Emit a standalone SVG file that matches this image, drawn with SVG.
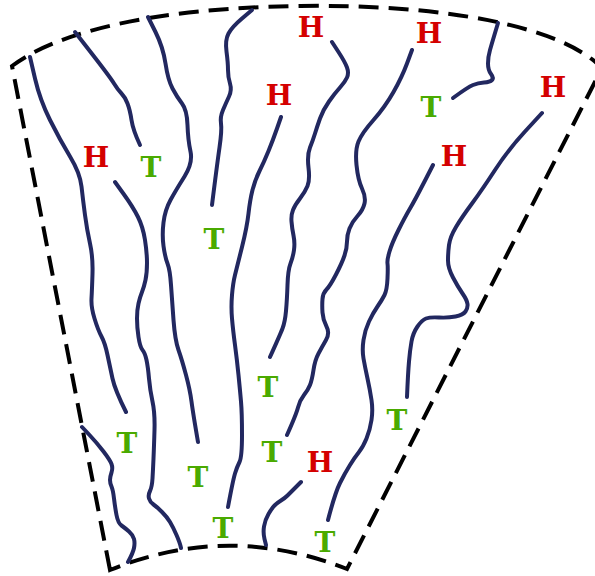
<svg xmlns="http://www.w3.org/2000/svg" width="595" height="576" viewBox="0 0 595 576">
<style>
.b{fill:none;stroke:#000;stroke-width:4;stroke-dasharray:20 10}
.l{fill:none;stroke:#222860;stroke-width:4;stroke-linecap:round;stroke-linejoin:round}
text{font-family:"DejaVu Serif","Liberation Serif",serif;font-weight:bold;font-size:28px;text-anchor:middle}
.h{fill:#d40000}
.t{fill:#4aaa00}
</style>
<rect width="595" height="576" fill="#fff"/>
<g id="border">
<path class="b" d="M110,570 L12,66 C60,30 160,8 300,6 C440,4 560,25 602,68 L347,569 Q228,522 110,570 Z"/>
</g>
<g id="connectors">
<path class="l" d="M30,57 L35,78.5 Q40,100 50,120 Q60,140 70,156.5 Q80,173 81.5,186.5 Q83,200 85,215 Q87,230 90,243.5 Q93,257 92.5,273.5 Q92,290 91.5,298.5 Q91,307 94.5,318.5 Q98,330 101.5,336.5 Q105,343 107.5,355 Q110,367 112.5,378.5 Q115,390 126,412"/>
<path class="l" d="M75,32 L92.5,54.5 Q110,77 114,83.5 Q118,90 121.5,93.5 Q125,97 127.5,103.5 Q130,110 131.5,120 Q133,130 140,145"/>
<path class="l" d="M148,17 L155.5,32 Q163,47 165.5,63.5 Q168,80 172.5,88.5 Q177,97 182,103.5 Q187,110 187.5,125 Q188,140 190.5,151.5 Q193,163 184.5,176.5 Q176,190 170.5,200 Q165,210 163.5,222.5 Q162,235 163.5,246 Q165,257 167.5,263.5 Q170,270 171,285 Q172,300 173.5,320 Q175,340 178.5,350 Q182,360 186,375 Q190,390 191.5,401.5 Q193,413 198,442"/>
<path class="l" d="M252,10 L242,18.5 Q232,27 228.5,33.5 Q225,40 226.5,51.5 Q228,63 228,70 Q228,77 230,83.5 Q232,90 229,96.5 Q226,103 223,110 Q220,117 221,123.5 Q222,130 219.5,147.5 Q217,165 212,205"/>
<path class="l" d="M281,117 L277,128.5 Q273,140 268.5,151 Q264,162 259.5,171 Q255,180 252.5,190 Q250,200 248.5,213.5 Q247,227 242,247 Q237,267 235,275 Q233,283 232,295 Q231,307 232,318.5 Q233,330 235,345 Q237,360 238.5,375 Q240,390 241,401.5 Q242,413 242,435 Q242,457 239.5,462 Q237,467 235,473.5 Q233,480 228,507"/>
<path class="l" d="M332,42 L338.5,52 Q345,62 347,67.5 Q349,73 347,77.5 Q345,82 340,87.5 Q335,93 329,101.5 Q323,110 320,118.5 Q317,127 315,133.5 Q313,140 310,147.5 Q307,155 308.5,167.5 Q310,180 307.5,186 Q305,192 300,198.5 Q295,205 293,210 Q291,215 291.5,221.5 Q292,228 293.5,235.5 Q295,243 294,250 Q293,257 290.5,263.5 Q288,270 287.5,285 Q287,300 286,311 Q285,322 282.5,328.5 Q280,335 270,357"/>
<path class="l" d="M412,50 L407,63.5 Q402,77 393.5,92 Q385,107 373.5,120 Q362,133 358.5,141.5 Q355,150 356.5,165 Q358,180 362,188.5 Q366,197 364.5,203.5 Q363,210 357.5,216 Q352,222 349.5,228.5 Q347,235 347,241.5 Q347,248 344.5,255.5 Q342,263 336,274.5 Q330,286 326.5,289.5 Q323,293 322.5,299 Q322,305 322.5,312.5 Q323,320 326.5,326.5 Q330,333 326,340 Q322,347 318.5,353.5 Q315,360 313.5,370 Q312,380 310,385 Q308,390 304,395 Q300,400 298,407.5 Q296,415 287,435"/>
<path class="l" d="M498,23 L495,33 Q492,43 490,50 Q488,57 488,63.5 Q488,70 491,74 Q494,78 492,80 Q490,82 484,82.5 Q478,83 473,85 Q468,87 453,98"/>
<path class="l" d="M433,165 L424,182.5 Q415,200 410,208.5 Q405,217 398.5,230 Q392,243 389.5,251.5 Q387,260 387.5,263.5 Q388,267 387.5,278.5 Q387,290 384.5,295 Q382,300 377.5,306.5 Q373,313 369,321.5 Q365,330 363.5,340 Q362,350 363.5,358.5 Q365,367 367.5,378.5 Q370,390 371.5,400 Q373,410 371.5,420 Q370,430 366.5,438.5 Q363,447 359,452 Q355,457 350,465 Q345,473 340,483 Q335,493 328,520"/>
<path class="l" d="M542,113 L525,131.5 Q508,150 495,170 Q482,190 472,203.5 Q462,217 456,227 Q450,237 449,245 Q448,253 448,260.5 Q448,268 453,277.5 Q458,287 462.5,293.5 Q467,300 467.5,304 Q468,308 465.5,311.5 Q463,315 455.5,316.5 Q448,318 439,317.5 Q430,317 426,318.5 Q422,320 417.5,326.5 Q413,333 411.5,341.5 Q410,350 409,361.5 Q408,373 407,397"/>
<path class="l" d="M82,427 L89.5,435 Q97,443 103.5,451.5 Q110,460 111.5,464 Q113,468 111.5,472.5 Q110,477 110,480 Q110,483 111.5,486.5 Q113,490 114,498.5 Q115,507 116.5,515 Q118,523 121.5,525.5 Q125,528 129,531.5 Q133,535 134,539 Q135,543 134,548 Q133,553 128,562"/>
<path class="l" d="M115,182 L124,194.5 Q133,207 138,217 Q143,227 145,240 Q147,253 147,263 Q147,273 145.5,280 Q144,287 142,292 Q140,297 138.5,303.5 Q137,310 137,318.5 Q137,327 138.5,337 Q140,347 142.5,350 Q145,353 146.5,360 Q148,367 149,378.5 Q150,390 152.5,401.5 Q155,413 154.5,430 Q154,447 153.5,458.5 Q153,470 152.5,478.5 Q152,487 150,491 Q148,495 149,498.5 Q150,502 153.5,504.5 Q157,507 162,512 Q167,517 170,522 Q173,527 176.5,535 Q180,543 181,548"/>
<path class="l" d="M266,545 L264.5,539 Q263,533 264,526.5 Q265,520 268.5,514 Q272,508 274.5,505.5 Q277,503 281,500.5 Q285,498 287.5,495.5 Q290,493 301,482"/>
</g>
<g id="h1"><text class="h" x="311" y="37">H</text></g>
<g id="h2"><text class="h" x="429" y="43">H</text></g>
<g id="h3"><text class="h" x="553" y="97">H</text></g>
<g id="h4"><text class="h" x="454" y="166">H</text></g>
<g id="h5"><text class="h" x="279" y="105">H</text></g>
<g id="h6"><text class="h" x="96" y="167">H</text></g>
<g id="h7"><text class="h" x="320" y="472">H</text></g>
<g id="t1"><text class="t" x="431" y="117">T</text></g>
<g id="t2"><text class="t" x="151" y="177">T</text></g>
<g id="t3"><text class="t" x="214" y="249">T</text></g>
<g id="t4"><text class="t" x="268" y="397">T</text></g>
<g id="t5"><text class="t" x="397" y="430">T</text></g>
<g id="t6"><text class="t" x="127" y="453">T</text></g>
<g id="t7"><text class="t" x="198" y="487">T</text></g>
<g id="t8"><text class="t" x="272" y="462">T</text></g>
<g id="t9"><text class="t" x="223" y="538">T</text></g>
<g id="t10"><text class="t" x="325" y="552">T</text></g>
</svg>
